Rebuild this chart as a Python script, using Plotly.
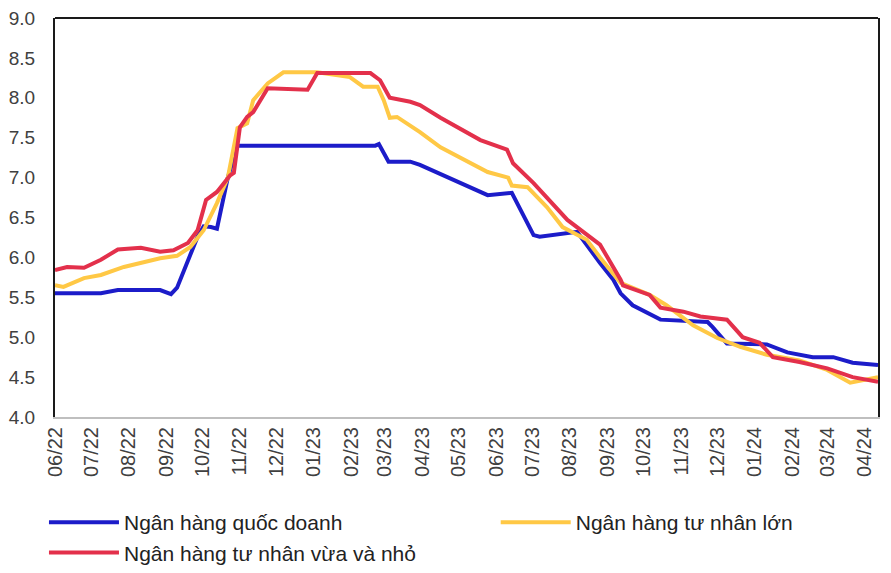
import plotly.graph_objects as go

# --- Data ---
state_dates = ["2022-06-01", "2022-07-09", "2022-07-23", "2022-08-27", "2022-09-05", "2022-09-10",
               "2022-09-27", "2022-10-02", "2022-10-08", "2022-10-13", "2022-10-22", "2022-10-30",
               "2023-02-21", "2023-02-24", "2023-03-04", "2023-03-22", "2023-03-30", "2023-05-25",
               "2023-06-14", "2023-07-02", "2023-07-07", "2023-07-30", "2023-08-07", "2023-08-26",
               "2023-09-06", "2023-09-12", "2023-09-22", "2023-10-15", "2023-11-23", "2023-11-27",
               "2023-12-09", "2024-01-11", "2024-01-28", "2024-02-18", "2024-03-06", "2024-03-22",
               "2024-04-12"]
state_values = [5.55, 5.55, 5.59, 5.59, 5.54, 5.62,
                6.26, 6.39, 6.38, 6.36, 7.00, 7.40,
                7.40, 7.42, 7.20, 7.20, 7.16, 6.78,
                6.81, 6.28, 6.26, 6.31, 6.32, 5.93,
                5.72, 5.55, 5.40, 5.22, 5.19, 5.13,
                4.92, 4.91, 4.81, 4.75, 4.75, 4.68,
                4.65]

large_dates = ["2022-06-01", "2022-06-08", "2022-06-25", "2022-07-09", "2022-07-28", "2022-08-11",
               "2022-08-27", "2022-09-10", "2022-09-21", "2022-10-02", "2022-10-13", "2022-10-22",
               "2022-10-26", "2022-10-30", "2022-11-07", "2022-11-12", "2022-11-24", "2022-12-07",
               "2023-01-04", "2023-01-17", "2023-01-31", "2023-02-11", "2023-02-23", "2023-02-28",
               "2023-03-05", "2023-03-11", "2023-03-30", "2023-04-16", "2023-05-25", "2023-06-11",
               "2023-06-14", "2023-06-27", "2023-07-13", "2023-07-26", "2023-08-15", "2023-08-26",
               "2023-09-06", "2023-09-12", "2023-10-06", "2023-10-20", "2023-11-11", "2023-12-01",
               "2023-12-20", "2024-01-11", "2024-02-07", "2024-03-01", "2024-03-20", "2024-04-03",
               "2024-04-12"]
large_values = [5.65, 5.63, 5.74, 5.78, 5.88, 5.93,
                5.99, 6.02, 6.13, 6.34, 6.68, 7.00,
                7.34, 7.62, 7.68, 7.97, 8.18, 8.32,
                8.32, 8.29, 8.26, 8.14, 8.14, 7.97,
                7.75, 7.76, 7.57, 7.38, 7.07, 7.00,
                6.90, 6.88, 6.63, 6.38, 6.22, 6.00,
                5.80, 5.68, 5.53, 5.40, 5.15, 4.99,
                4.88, 4.78, 4.71, 4.59, 4.43, 4.47,
                4.50]

small_dates = ["2022-06-01", "2022-06-11", "2022-06-25", "2022-07-09", "2022-07-23", "2022-08-11",
               "2022-08-27", "2022-09-07", "2022-09-19", "2022-09-27", "2022-10-04", "2022-10-13",
               "2022-10-24", "2022-10-27", "2022-11-01", "2022-11-07", "2022-11-12", "2022-11-24",
               "2022-12-27", "2023-01-04", "2023-02-17", "2023-02-25", "2023-03-05", "2023-03-22",
               "2023-03-30", "2023-04-16", "2023-05-19", "2023-06-10", "2023-06-15", "2023-07-02",
               "2023-07-30", "2023-08-26", "2023-09-12", "2023-09-14", "2023-10-06", "2023-10-15",
               "2023-11-03", "2023-11-17", "2023-12-09", "2023-12-22", "2024-01-05", "2024-01-16",
               "2024-02-07", "2024-03-01", "2024-03-22", "2024-04-12"]
small_values = [5.84, 5.88, 5.87, 5.97, 6.10, 6.12,
                6.07, 6.09, 6.18, 6.34, 6.72, 6.82,
                7.03, 7.06, 7.63, 7.76, 7.82, 8.12,
                8.10, 8.31, 8.31, 8.22, 8.00, 7.95,
                7.91, 7.75, 7.47, 7.35, 7.18, 6.93,
                6.47, 6.16, 5.72, 5.65, 5.53, 5.37,
                5.32, 5.26, 5.22, 5.00, 4.93, 4.75,
                4.69, 4.61, 4.50, 4.44]

series_names = ["Ngân hàng quốc doanh", "Ngân hàng tư nhân lớn", "Ngân hàng tư nhân vừa và nhỏ"]
series_colors = ["#1C1CC9", "#FFC845", "#E3304B"]
series_legends = ["legend", "legend2", "legend"]

fig = go.Figure()
for name, color, lg, xs, ys in zip(series_names, series_colors, series_legends,
                                   [state_dates, large_dates, small_dates],
                                   [state_values, large_values, small_values]):
    fig.add_trace(go.Scatter(x=xs, y=ys, mode="lines", name=name, legend=lg,
                             line=dict(color=color, width=4)))

legend_common = dict(orientation="v", yanchor="top", xanchor="left", yref="container",
                     font=dict(size=21, color="#222222"), tracegroupgap=0,
                     itemwidth=70, bgcolor="rgba(0,0,0,0)", borderwidth=0)

# page body has an 8px margin, so the figure is sized to fit the window
fig.update_layout(
    width=875, height=557,
    margin=dict(l=47, r=5, t=10, b=148),
    paper_bgcolor="white", plot_bgcolor="white",
    font=dict(family="Liberation Sans, Arial, sans-serif", color="#404040"),
    showlegend=True,
    legend=dict(x=-0.0134, y=0.113, **legend_common),
    legend2=dict(x=0.5355, y=0.113, **legend_common),
    xaxis=dict(type="date", range=["2022-06-01", "2024-04-12"],
               tick0="2022-06-01", dtick="M1", tickformat="%m/%y",
               tickangle=-90, ticks="", showgrid=False, zeroline=False,
               showline=True, linecolor="#BFBFBF", linewidth=2, automargin=False,
               ticklabeloverflow="allow",
               tickfont=dict(size=20, color="#404040")),
    yaxis=dict(range=[4, 9], dtick=0.5, tickformat=".1f", ticks="",
               showgrid=False, zeroline=False, showline=True, mirror=True,
               linecolor="#1a1a1a", linewidth=2, ticklabelstandoff=14, automargin=False,
               ticklabeloverflow="allow",
               tickfont=dict(size=19, color="#404040")),
    shapes=[dict(type="line", xref="paper", yref="paper", x0=0, x1=1, y0=1, y1=1,
                 line=dict(color="#1a1a1a", width=2))],
)

fig.write_html("out.html")
